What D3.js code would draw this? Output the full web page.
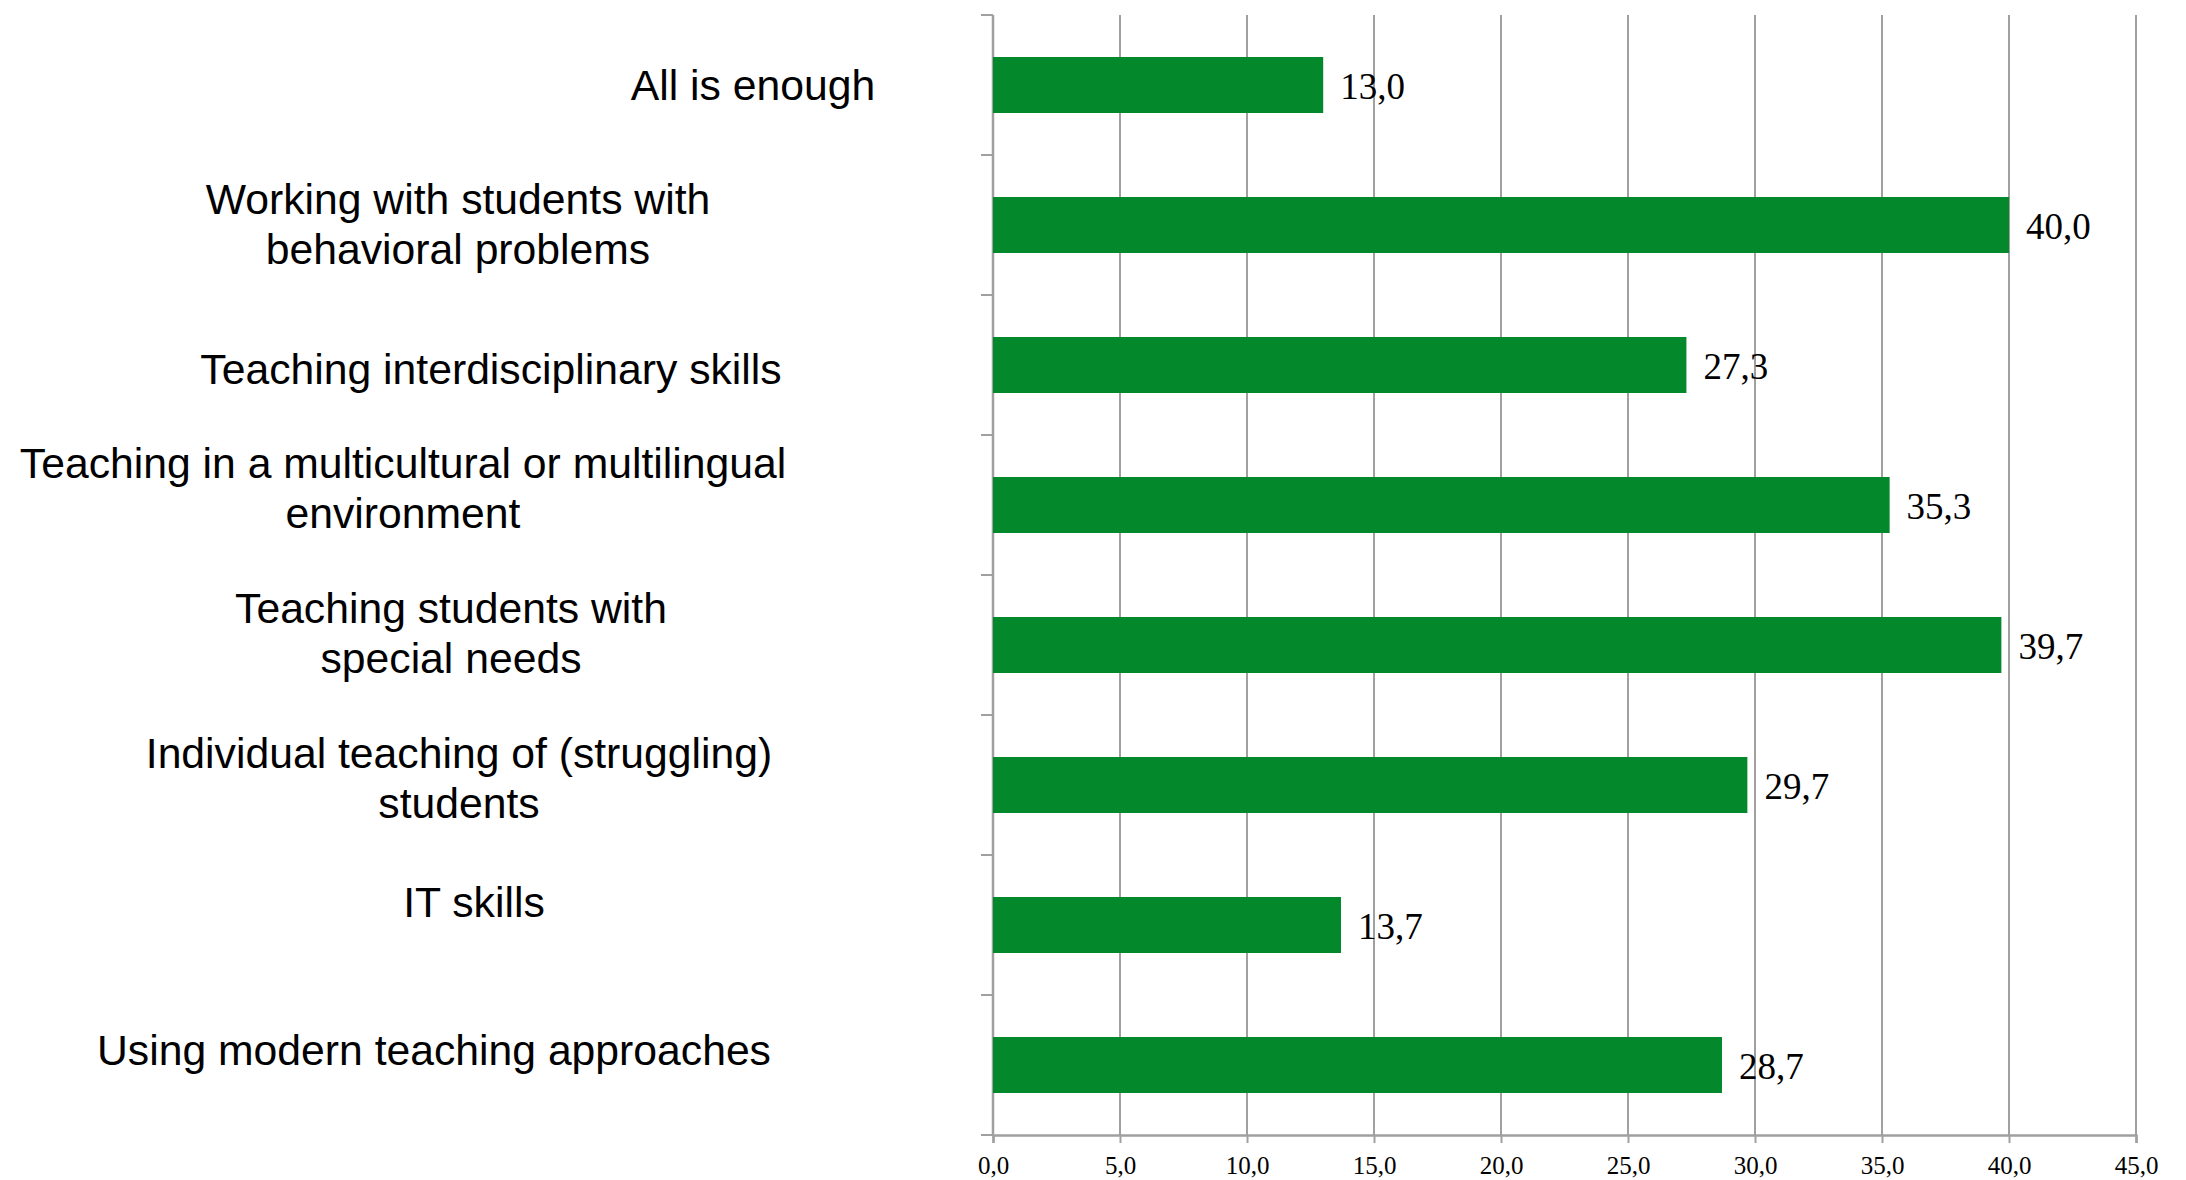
<!DOCTYPE html>
<html>
<head>
<meta charset="utf-8">
<script src="https://cdn.jsdelivr.net/npm/d3@7"></script>
<style>
  html, body { margin: 0; padding: 0; background: #ffffff; }
  svg { display: block; }
</style>
</head>
<body>
<svg id="chart" width="2186" height="1180"></svg>
<script>
// Training needs: share of respondents (%) per topic
const categories = [
  "All is enough",
  "Working with students with behavioral problems",
  "Teaching interdisciplinary skills",
  "Teaching in a multicultural or multilingual environment",
  "Teaching students with special needs",
  "Individual teaching of (struggling) students",
  "IT skills",
  "Using modern teaching approaches"
];
const values = [13.0, 40.0, 27.3, 35.3, 39.7, 29.7, 13.7, 28.7];

// Category labels as broken into lines
const labelLines = [
  ["All is enough"],
  ["Working with students with", "behavioral problems"],
  ["Teaching interdisciplinary skills"],
  ["Teaching in a multicultural or multilingual", "environment"],
  ["Teaching students with", "special needs"],
  ["Individual teaching of (struggling)", "students"],
  ["IT skills"],
  ["Using modern teaching approaches"]
];

const xTicks = [0, 5, 10, 15, 20, 25, 30, 35, 40, 45];

// Label block placement: horizontal centre and vertical shift from band centre
const labelLayout = [
  { cx: 753, dy: 0 },
  { cx: 458, dy: -1 },
  { cx: 491, dy: 4 },
  { cx: 403, dy: -17 },
  { cx: 451, dy: -12 },
  { cx: 459, dy: -7 },
  { cx: 474, dy: -23 },
  { cx: 434, dy: -15 }
];

const plot = { left: 993, right: 2136, top: 15, bottom: 1135 };
const gridColor = "#a0a0a0";
const barColor = "#03892c";
const fmt = v => d3.format(".1f")(v).replace(".", ",");

const svg = d3.select("#chart");

const x = d3.scaleLinear().domain([0, 45]).range([plot.left, plot.right]);
const y = d3.scaleBand()
  .domain(categories)
  .range([plot.top, plot.bottom])
  .paddingInner(0.6)
  .paddingOuter(0.3);

// Vertical gridlines
svg.append("g")
  .selectAll("line")
  .data(xTicks.filter(t => t > 0))
  .join("line")
  .attr("x1", d => x(d)).attr("x2", d => x(d))
  .attr("y1", plot.top).attr("y2", plot.bottom)
  .attr("stroke", gridColor).attr("stroke-width", 2);

// Bottom value axis
const xAxis = svg.append("g")
  .attr("transform", `translate(0,${plot.bottom})`)
  .call(d3.axisBottom(x).tickValues(xTicks).tickFormat(fmt).tickSize(8).tickPadding(13));
xAxis.select(".domain").attr("stroke", gridColor).attr("stroke-width", 2.5);
xAxis.selectAll(".tick line").attr("stroke", gridColor).attr("stroke-width", 2);
xAxis.selectAll(".tick text")
  .attr("font-family", "'Liberation Serif', 'Times New Roman', serif")
  .attr("font-size", 25)
  .attr("fill", "#000");

// Left category axis: line with ticks at band boundaries
const step = y.step();
const boundaries = d3.range(categories.length + 1).map(i => plot.top + i * step);
svg.append("line")
  .attr("x1", plot.left).attr("x2", plot.left)
  .attr("y1", plot.top).attr("y2", plot.bottom)
  .attr("stroke", gridColor).attr("stroke-width", 2.5);
svg.append("g")
  .selectAll("line")
  .data(boundaries)
  .join("line")
  .attr("x1", plot.left - 12).attr("x2", plot.left)
  .attr("y1", d => d).attr("y2", d => d)
  .attr("stroke", gridColor).attr("stroke-width", 2);

// Bars
svg.append("g")
  .selectAll("rect")
  .data(values)
  .join("rect")
  .attr("x", x(0))
  .attr("y", (d, i) => y(categories[i]))
  .attr("width", d => x(d) - x(0))
  .attr("height", y.bandwidth())
  .attr("fill", barColor);

// Value labels
svg.append("g")
  .selectAll("text")
  .data(values)
  .join("text")
  .attr("x", d => x(d) + 17)
  .attr("y", (d, i) => y(categories[i]) + y.bandwidth() / 2 + 14)
  .attr("font-family", "'Liberation Serif', 'Times New Roman', serif")
  .attr("font-size", 37)
  .attr("fill", "#000")
  .text(d => fmt(d));

// Category labels
const lineGap = 50;
const labels = svg.append("g")
  .attr("font-family", "'Liberation Sans', Arial, sans-serif")
  .attr("font-size", 42.7)
  .attr("fill", "#000")
  .attr("text-anchor", "middle");
categories.forEach((c, i) => {
  const lines = labelLines[i];
  const mid = y(c) + y.bandwidth() / 2 + labelLayout[i].dy;
  const first = mid - (lines.length - 1) * lineGap / 2;
  lines.forEach((ln, j) => {
    labels.append("text")
      .attr("x", labelLayout[i].cx)
      .attr("y", first + j * lineGap + 15)
      .text(ln);
  });
});
</script>
</body>
</html>
